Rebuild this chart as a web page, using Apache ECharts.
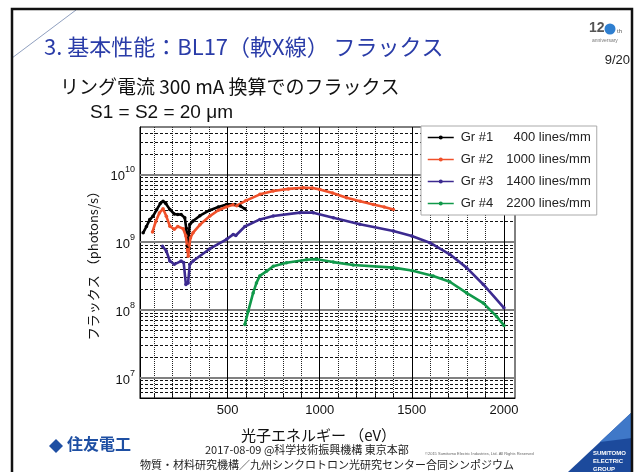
<!DOCTYPE html>
<html>
<head>
<meta charset="utf-8">
<script src="https://cdn.jsdelivr.net/npm/echarts@6/dist/echarts.min.js"></script>
<style>html,body{margin:0;padding:0;background:#fff}#c{width:639px;height:472px}</style>
</head>
<body>
<div id="c"></div>
<script>
// ---- data ----
const seriesNames = ['Gr #1', 'Gr #2', 'Gr #3', 'Gr #4'];
const seriesDensity = ['400', '1000', '1400', '2200'];

const gr1Energy = [42, 60, 78, 95, 115, 135, 150, 165, 187, 211, 230, 248, 268, 276, 283, 289, 295, 313, 350, 404, 450, 495, 540, 570, 594];
const gr1Flux = [1.37e9, 1.7e9, 2.15e9, 2.4e9, 3.0e9, 3.7e9, 4.0e9, 3.7e9, 3.04e9, 2.6e9, 2.55e9, 2.55e9, 2.29e9, 1.6e9, 0.87e9, 1.2e9, 1.82e9, 2.05e9, 2.45e9, 2.96e9, 3.3e9, 3.6e9, 3.6e9, 3.4e9, 3.1e9];

const gr2Energy = [93, 110, 130, 150, 168, 187, 211, 230, 259, 274, 283, 287, 292, 299, 313, 350, 404, 450, 495, 530, 550, 600, 676, 748, 830, 910, 960, 1001, 1070, 1146, 1220, 1291, 1350, 1400];
const gr2Flux = [1.41e9, 2.0e9, 2.7e9, 3.1e9, 2.4e9, 1.72e9, 1.55e9, 1.7e9, 1.58e9, 1.23e9, 0.75e9, 0.62e9, 0.9e9, 1.16e9, 1.38e9, 1.8e9, 2.42e9, 2.95e9, 3.33e9, 3.55e9, 3.45e9, 4.1e9, 5.07e9, 5.67e9, 6.1e9, 6.35e9, 6.3e9, 6.0e9, 5.3e9, 4.5e9, 4.0e9, 3.6e9, 3.3e9, 3.04e9];

const gr3Energy = [147, 168, 187, 211, 248, 262, 274, 286, 295, 313, 404, 495, 531, 545, 594, 676, 748, 893, 965, 1074, 1218, 1400, 1500, 1598, 1706, 1797, 1888, 2000];
const gr3Flux = [0.87e9, 0.74e9, 0.525e9, 0.47e9, 0.525e9, 0.5e9, 0.237e9, 0.25e9, 0.47e9, 0.525e9, 0.8e9, 1.1e9, 1.3e9, 1.25e9, 1.7e9, 2.16e9, 2.43e9, 2.72e9, 2.72e9, 2.29e9, 1.83e9, 1.46e9, 1.23e9, 0.98e9, 0.66e9, 0.42e9, 0.237e9, 0.107e9];

const gr4Energy = [594, 612, 639, 657, 675, 711, 748, 820, 929, 983, 1074, 1182, 1400, 1500, 1616, 1706, 1797, 1888, 1960, 2000];
const gr4Flux = [6.1e7, 9.5e7, 1.78e8, 2.5e8, 3.17e8, 3.7e8, 4.4e8, 4.95e8, 5.5e8, 5.6e8, 5.07e8, 4.6e8, 4.2e8, 3.8e8, 3.17e8, 2.6e8, 1.78e8, 1.26e8, 8.0e7, 5.9e7];

const xLabelValues = [500, 1000, 1500, 2000];
const xMinorGrid = [100, 200, 300, 400, 600, 700, 800, 900, 1100, 1200, 1300, 1400, 1600, 1700, 1800, 1900];
const xTickValues = [100, 200, 300, 400, 500, 600, 700, 800, 900, 1000, 1100, 1200, 1300, 1400, 1500, 1600, 1700, 1800, 1900, 2000];
const yMajorGrid = [1e7, 1e8, 1e9, 1e10];
const yMinorGrid = [6e6, 7e6, 8e6, 9e6,
  2e7, 3e7, 4e7, 5e7, 6e7, 7e7, 8e7, 9e7,
  2e8, 3e8, 4e8, 5e8, 6e8, 7e8, 8e8, 9e8,
  2e9, 3e9, 4e9, 5e9, 6e9, 7e9, 8e9, 9e9,
  2e10, 3e10, 4e10];

const colors = ['#000000', '#f0502a', '#3c2a90', '#10994a'];
// ---------------------------------------

const zip = (xs, ys) => xs.map((x, i) => [x, ys[i]]);
const allData = [zip(gr1Energy, gr1Flux), zip(gr2Energy, gr2Flux), zip(gr3Energy, gr3Flux), zip(gr4Energy, gr4Flux)];

const gridLines = [];
yMinorGrid.forEach(v => gridLines.push({ yAxis: v, lineStyle: { color: '#111', width: 1, type: [3, 2] } }));
xMinorGrid.forEach(v => gridLines.push({ xAxis: v, lineStyle: { color: '#222', width: 1, type: [1, 1] } }));
yMajorGrid.forEach(v => gridLines.push({ yAxis: v, lineStyle: { color: '#808080', width: 2, type: 'solid' } }));
xLabelValues.forEach(v => gridLines.push({ xAxis: v, lineStyle: { color: '#000', width: 1, type: 'solid' } }));

const FONT = "'Liberation Sans', 'Noto Sans CJK JP', sans-serif";
const JP = "'Noto Sans CJK JP', sans-serif";

const chart = echarts.init(document.getElementById('c'), null, { renderer: 'canvas' });

const series = seriesNames.map((n, i) => ({
  name: n,
  type: 'line',
  data: allData[i],
  symbol: 'circle',
  symbolSize: 3.5,
  showSymbol: true,
  z: 3,
  lineStyle: { color: colors[i], width: 2.6 },
  itemStyle: { color: colors[i] },
  animation: false
}));
series.push({
  name: 'grid',
  type: 'line',
  data: [],
  z: 1,
  silent: true,
  animation: false,
  markLine: { z: 1, silent: true, symbol: ['none', 'none'], label: { show: false }, animation: false, data: gridLines }
});

chart.setOption({
  backgroundColor: '#fff',
  animation: false,
  textStyle: { fontFamily: FONT },
  grid: { left: 140, top: 127, right: 124, bottom: 74, show: true, borderColor: '#000', borderWidth: 1, backgroundColor: 'transparent' },
  legend: {
    data: seriesNames,
    z: 20,
    orient: 'vertical',
    left: 421, top: 126,
    itemWidth: 26, itemHeight: 5, itemGap: 9,
    padding: [5, 6, 5, 6],
    backgroundColor: '#fff',
    borderColor: '#aaa', borderWidth: 1,
    lineStyle: { width: 1.5 },
    formatter: name => '{a|' + name + '}{b|' + seriesDensity[seriesNames.indexOf(name)] + ' lines/mm}',
    textStyle: {
      fontFamily: FONT, fontSize: 13, color: '#222', padding: [0, 0, 0, 2],
      rich: {
        a: { width: 38, fontSize: 13, lineHeight: 15, fontFamily: FONT, color: '#222' },
        b: { width: 92, align: 'right', fontSize: 13, lineHeight: 15, fontFamily: FONT, color: '#222' }
      }
    }
  },
  xAxis: {
    type: 'value', min: 25, max: 2060,
    name: '光子エネルギー （eV）', nameLocation: 'middle', nameGap: 30,
    nameTextStyle: { fontFamily: JP, fontSize: 15, color: '#111', padding: [0, 18, 0, 0] },
    axisLine: { show: true, lineStyle: { color: '#000' } },
    axisTick: { show: true, inside: true, length: 4, customValues: xTickValues, lineStyle: { color: '#000' } },
    axisLabel: { customValues: xLabelValues, fontSize: 13, color: '#111', margin: 6, fontFamily: FONT, formatter: v => String(v) },
    splitLine: { show: false }
  },
  yAxis: {
    type: 'log', logBase: 10, min: 5e6, max: 5e10,
    name: 'フラックス （photons/s）', nameLocation: 'middle', nameGap: 40,
    nameTextStyle: { fontFamily: JP, fontSize: 13, color: '#111' },
    axisLine: { show: true, lineStyle: { color: '#000' } },
    axisTick: { show: false },
    splitLine: { show: false },
    minorTick: { show: false },
    axisLabel: {
      margin: 5,
      formatter: function (v) {
        const e = Math.log10(v);
        if (Math.abs(e - Math.round(e)) > 1e-6) return '';
        return '{b|10}{s|' + Math.round(e) + '}';
      },
      rich: {
        b: { fontSize: 13, fontFamily: FONT, color: '#111', lineHeight: 18, verticalAlign: 'bottom' },
        s: { fontSize: 9, fontFamily: FONT, color: '#111', lineHeight: 18, verticalAlign: 'top' }
      }
    }
  },
  series: series,
  graphic: [
    { type: 'rect', shape: { x: 12, y: 9, width: 620, height: 480 }, style: { fill: 'none', stroke: '#111', lineWidth: 2.5 }, silent: true, z: 100 },
    { type: 'line', shape: { x1: 12, y1: 58, x2: 76, y2: 10 }, style: { stroke: '#90a0bf', lineWidth: 1 }, silent: true },
    { type: 'text', left: 44, top: 36, style: { text: '3. 基本性能：BL17（軟X線） フラックス', font: "22px 'Noto Sans CJK JP'", fill: '#2a3ca8' } },
    { type: 'text', left: 60, top: 77, style: { text: 'リング電流 300 mA 換算でのフラックス', font: "19px 'Noto Sans CJK JP'", fill: '#111' } },
    { type: 'text', left: 90, top: 103, style: { text: 'S1 = S2 = 20 μm', font: "19px 'Liberation Sans'", fill: '#111' } },
    { type: 'text', right: 9, top: 54, style: { text: '9/20', font: "13px 'Liberation Sans'", fill: '#222' } },
    { type: 'text', left: 589, top: 21, style: { text: '12', font: "bold 14px 'Liberation Sans'", fill: '#555' } },
    { type: 'circle', shape: { cx: 610, cy: 29, r: 5.5 }, style: { fill: '#2f7fd0' } },
    { type: 'text', left: 617, top: 28, style: { text: 'th', font: "6px 'Liberation Sans'", fill: '#555' } },
    { type: 'text', left: 592, top: 38, style: { text: 'anniversary', font: "5px 'Liberation Sans'", fill: '#777' } },
    { type: 'polygon', shape: { points: [[49, 446], [56, 439], [63, 446], [56, 453]] }, style: { fill: '#1e4fa3' } },
    { type: 'text', left: 67, top: 436, style: { text: '住友電工', font: "bold 16px 'Noto Sans CJK JP'", fill: '#1e4fa3' } },
    { type: 'text', left: 205, top: 444, style: { text: '2017-08-09 @科学技術振興機構 東京本部', font: "11px 'Noto Sans CJK JP'", fill: '#222' } },
    { type: 'text', left: 140, top: 459, style: { text: '物質・材料研究機構／九州シンクロトロン光研究センター合同シンポジウム', font: "11px 'Noto Sans CJK JP'", fill: '#222' } },
    { type: 'text', left: 425, top: 452, style: { text: '©2015 Sumitomo Electric Industries, Ltd. All Rights Reserved', font: "4px 'Liberation Sans'", fill: '#666' } },
    { type: 'polygon', shape: { points: [[568, 472], [632, 412], [632, 472]] }, style: { fill: '#1c4a9c' }, z: 50 },
    { type: 'polygon', shape: { points: [[600, 442], [632, 412], [632, 438]] }, style: { fill: '#3f78c8' }, z: 51 },
    { type: 'text', left: 593, top: 449, style: { text: 'SUMITOMO\nELECTRIC\nGROUP', font: "bold 6px 'Liberation Sans'", fill: '#fff', lineHeight: 8 }, z: 52 }
  ]
});
</script>
</body>
</html>
